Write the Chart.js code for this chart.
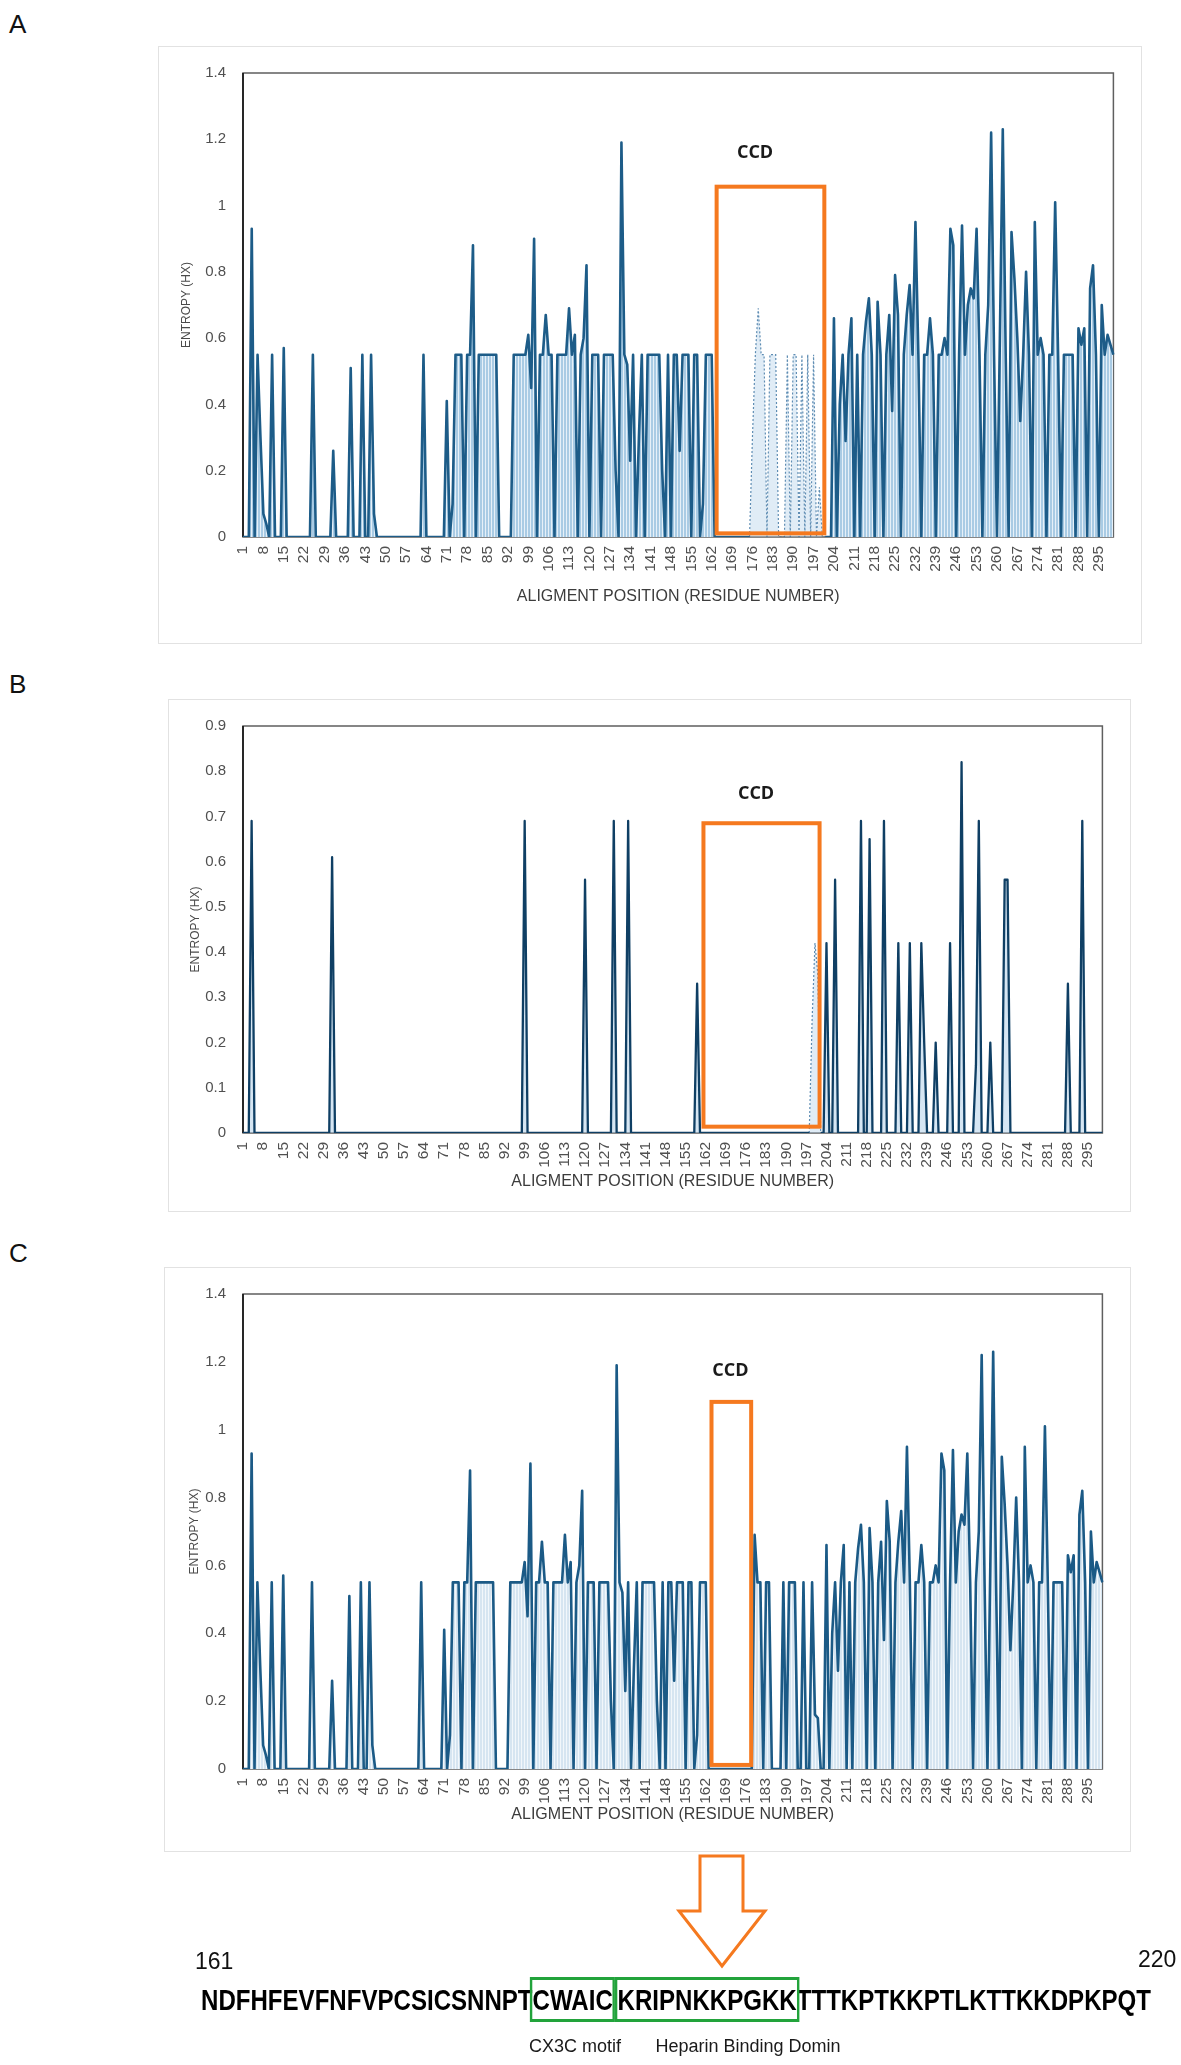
<!DOCTYPE html>
<html>
<head>
<meta charset="utf-8">
<script src="https://cdn.jsdelivr.net/npm/chart.js@4.4.1/dist/chart.umd.min.js"></script>
<style>
  html, body { margin: 0; padding: 0; background: #fff; }
  body { width: 1181px; height: 2065px; position: relative; overflow: hidden; font-family: 'Liberation Sans', Arial, sans-serif; }
  .panel { position: absolute; outline: 1px solid #e2e2e2; background: #fff; }
  .panel canvas { position: absolute; left: 0; top: 0; }
  .letter { position: absolute; font-size: 26px; line-height: 26px; color: #111; }
  #seq { position: absolute; left: 201px; top: 1985px; white-space: nowrap; font-weight: bold; font-size: 30px; line-height: 30px; color: #000; transform-origin: 0 0; }
  .bx { outline: 3px solid #22a33b; padding: 3px 0; }
  .bx2 { margin-left: 6px; }
  .num { position: absolute; font-size: 23px; line-height: 23px; color: #111; }
  .lab { position: absolute; width: 300px; text-align: center; font-size: 18px; line-height: 18px; color: #1a1a1a; }
  #arrow { position: absolute; left: 0; top: 0; pointer-events: none; }
</style>
</head>
<body>
<div class="letter" style="left:9px;top:11px">A</div>
<div class="letter" style="left:9px;top:671px">B</div>
<div class="letter" style="left:9px;top:1240px">C</div>

<div class="panel" style="left:159px;top:47px;width:982px;height:596px"><canvas id="cA" width="982" height="596"></canvas></div>
<div class="panel" style="left:169px;top:700px;width:961px;height:511px"><canvas id="cB" width="961" height="511"></canvas></div>
<div class="panel" style="left:165px;top:1268px;width:965px;height:583px"><canvas id="cC" width="965" height="583"></canvas></div>

<svg id="arrow" width="1181" height="2065" viewBox="0 0 1181 2065">
  <polygon points="700,1856 743,1856 743,1911 765,1911 722,1966 679,1911 700,1911" fill="#fff" stroke="#F5791F" stroke-width="3" stroke-linejoin="miter"/>
</svg>

<div class="num" style="left:195px;top:1950px">161</div>
<div class="num" style="left:1138px;top:1948px">220</div>
<div id="seq">NDFHFEVFNFVPCSICSNNPT<span class="bx">CWAIC</span><span class="bx bx2">KRIPNKKPGKK</span>TTTKPTKKPTLKTTKKDPKPQT</div>
<div class="lab" style="left:425px;top:2037px">CX3C motif</div>
<div class="lab" style="left:598px;top:2037px">Heparin Binding Domin</div>

<script>
// ---------- DATA ----------
const positions = Array.from({ length: 300 }, (_, i) => String(i + 1));
const xTickEvery = 7;

const entropyA = [
  0,0,0,0.93,0,0.55,0.3,0.07,0.04,0,
  0.55,0,0,0,0.57,0,0,0,0,0,
  0,0,0,0,0.55,0,0,0,0,0,
  0,0.26,0,0,0,0,0,0.51,0,0,
  0,0.55,0,0,0.55,0.07,0,0,0,0,
  0,0,0,0,0,0,0,0,0,0,
  0,0,0.55,0,0,0,0,0,0,0,
  0.41,0,0.1,0.55,0.55,0.55,0,0.55,0.55,0.88,
  0,0.55,0.55,0.55,0.55,0.55,0.55,0.55,0,0,
  0,0,0,0.55,0.55,0.55,0.55,0.55,0.61,0.45,
  0.9,0,0.55,0.55,0.67,0.55,0.55,0,0.55,0.55,
  0.55,0.55,0.69,0.55,0.61,0,0.55,0.6,0.82,0,
  0.55,0.55,0.55,0,0.55,0.55,0.55,0.55,0.2,0,
  1.19,0.55,0.52,0.23,0.55,0,0.3,0.55,0,0.55,
  0.55,0.55,0.55,0.55,0.2,0,0.55,0,0.55,0.55,
  0.26,0.55,0.55,0.55,0,0.55,0.55,0,0.1,0.55,
  0.55,0.55,0,0,0,0,0,0,0,0,
  0,0,0,0,0,0.3,0.55,0.69,0.55,0.55,
  0,0.55,0.55,0.55,0,0,0,0.55,0,0.55,
  0.55,0,0.55,0,0.55,0,0.55,0,0.15,0,
  0,0,0,0.66,0,0.4,0.55,0.29,0.55,0.66,
  0,0.55,0,0.55,0.65,0.72,0.55,0,0.71,0.55,
  0,0.55,0.67,0.38,0.79,0.67,0,0.55,0.67,0.76,
  0.55,0.95,0.55,0,0.55,0.55,0.66,0.55,0,0.55,
  0.55,0.6,0.55,0.93,0.88,0,0.55,0.94,0.55,0.7,
  0.75,0.72,0.93,0.55,0,0.55,0.7,1.22,0.55,0,
  0.6,1.23,0.55,0,0.92,0.78,0.6,0.35,0.55,0.8,
  0.55,0,0.95,0.55,0.6,0.55,0,0.55,0.55,1.01,
  0.55,0,0.55,0.55,0.55,0.55,0,0.63,0.58,0.63,
  0,0.75,0.82,0.55,0,0.7,0.55,0.61,0.58,0.55
];

const entropyB = [
  0,0,0,0.69,0,0,0,0,0,0,
  0,0,0,0,0,0,0,0,0,0,
  0,0,0,0,0,0,0,0,0,0,
  0,0.61,0,0,0,0,0,0,0,0,
  0,0,0,0,0,0,0,0,0,0,
  0,0,0,0,0,0,0,0,0,0,
  0,0,0,0,0,0,0,0,0,0,
  0,0,0,0,0,0,0,0,0,0,
  0,0,0,0,0,0,0,0,0,0,
  0,0,0,0,0,0,0,0,0.69,0,
  0,0,0,0,0,0,0,0,0,0,
  0,0,0,0,0,0,0,0,0,0.56,
  0,0,0,0,0,0,0,0,0,0.69,
  0,0,0,0,0.69,0,0,0,0,0,
  0,0,0,0,0,0,0,0,0,0,
  0,0,0,0,0,0,0,0,0.33,0,
  0,0,0,0,0,0,0,0,0,0,
  0,0,0,0,0,0,0,0,0,0,
  0,0,0,0,0,0,0,0,0,0,
  0,0,0,0,0,0,0,0,0.25,0.42,
  0.35,0,0,0.42,0,0,0.56,0,0,0,
  0,0,0,0,0,0.69,0,0,0.65,0,
  0,0,0,0.69,0,0,0,0,0.42,0,
  0,0,0.42,0,0,0,0.42,0.2,0,0,
  0,0.2,0,0,0,0,0.42,0,0,0,
  0.82,0,0,0,0,0.15,0.69,0,0,0,
  0.2,0,0,0,0,0.56,0.56,0,0,0,
  0,0,0,0,0,0,0,0,0,0,
  0,0,0,0,0,0,0,0.33,0,0,
  0,0,0.69,0,0,0,0,0,0,0
];

const entropyC = [
  0,0,0,0.93,0,0.55,0.3,0.07,0.04,0,
  0.55,0,0,0,0.57,0,0,0,0,0,
  0,0,0,0,0.55,0,0,0,0,0,
  0,0.26,0,0,0,0,0,0.51,0,0,
  0,0.55,0,0,0.55,0.07,0,0,0,0,
  0,0,0,0,0,0,0,0,0,0,
  0,0,0.55,0,0,0,0,0,0,0,
  0.41,0,0.1,0.55,0.55,0.55,0,0.55,0.55,0.88,
  0,0.55,0.55,0.55,0.55,0.55,0.55,0.55,0,0,
  0,0,0,0.55,0.55,0.55,0.55,0.55,0.61,0.45,
  0.9,0,0.55,0.55,0.67,0.55,0.55,0,0.55,0.55,
  0.55,0.55,0.69,0.55,0.61,0,0.55,0.6,0.82,0,
  0.55,0.55,0.55,0,0.55,0.55,0.55,0.55,0.2,0,
  1.19,0.55,0.52,0.23,0.55,0,0.3,0.55,0,0.55,
  0.55,0.55,0.55,0.55,0.2,0,0.55,0,0.55,0.55,
  0.26,0.55,0.55,0.55,0,0.55,0.55,0,0.1,0.55,
  0.55,0.55,0,0,0,0,0,0,0,0,
  0,0,0,0,0,0,0,0,0.69,0.55,
  0.55,0,0.55,0.55,0,0,0,0,0.55,0,
  0.55,0.55,0.55,0,0,0.55,0,0,0.55,0.16,
  0.15,0,0,0.66,0,0.4,0.55,0.29,0.55,0.66,
  0,0.55,0,0.55,0.65,0.72,0.55,0,0.71,0.55,
  0,0.55,0.67,0.38,0.79,0.67,0,0.55,0.67,0.76,
  0.55,0.95,0.55,0,0.55,0.55,0.66,0.55,0,0.55,
  0.55,0.6,0.55,0.93,0.88,0,0.55,0.94,0.55,0.7,
  0.75,0.72,0.93,0.55,0,0.55,0.7,1.22,0.55,0,
  0.6,1.23,0.55,0,0.92,0.78,0.6,0.35,0.55,0.8,
  0.55,0,0.95,0.55,0.6,0.55,0,0.55,0.55,1.01,
  0.55,0,0.55,0.55,0.55,0.55,0,0.63,0.58,0.63,
  0,0.75,0.82,0.55,0,0.7,0.55,0.61,0.58,0.55
];

// CCD annotation extents in data units: [fromPos, toPos, lowValue, highValue]
const ccdBoxA = [163.7, 200.7, 0.011, 1.057];
const ccdBoxB = [161.2, 201.6, 0.014, 0.685];
const ccdBoxC = [164.0, 177.8, 0.012, 1.082];
// CCD label anchor: [position, value]
const ccdLabelA = [176.9, 1.159];
const ccdLabelB = [179.5, 0.749];
const ccdLabelC = [170.6, 1.173];
// faint (dotted) stretches: [fromPos, toPos]
const faintA = [175, 201];
const faintB = [198, 202];

// ---------- RENDER ----------
Chart.defaults.font.family = "'Liberation Sans', Arial, sans-serif";

function stripePattern(c1, c2) {
  const t = document.createElement('canvas');
  t.width = 3; t.height = 4;
  const g = t.getContext('2d');
  g.fillStyle = c2; g.fillRect(0, 0, 3, 4);
  g.fillStyle = c1; g.fillRect(0, 0, 2, 4);
  return g.createPattern(t, 'repeat');
}

function build(cfg) {
  const { canvasId, box, plot, xTitleY, yTitleX, yMax, yStep, values, faint, ccdBox, ccdLabel, lineColor, lineWidth, fillBg } = cfg;
  const yTitleFont = 12, xTitleFont = 16;
  const L = yTitleX - box.left - 2 - (yTitleFont * 1.2) / 2;
  const xBottom = xTitleY + 4 + (xTitleFont * 1.2) / 2;

  const main = values.map((v, i) => (faint && (i + 1) > faint[0] && (i + 1) < faint[1]) ? null : v);
  const datasets = [{
    data: main, borderColor: lineColor, borderWidth: lineWidth, backgroundColor: fillBg,
    fill: 'origin', pointRadius: 0, tension: 0, borderJoinStyle: 'round', spanGaps: false
  }];
  if (faint) {
    datasets.push({
      data: values.map((v, i) => ((i + 1) >= faint[0] && (i + 1) <= faint[1]) ? v : null),
      borderColor: 'rgba(45,105,155,0.75)', borderWidth: 1.2, borderDash: [2, 2],
      backgroundColor: 'rgba(165,200,228,0.35)', fill: 'origin', pointRadius: 0, tension: 0
    });
  }

  const framePlugin = {
    id: 'frame',
    beforeDatasetsDraw(chart) {
      const { ctx, chartArea: a } = chart;
      ctx.save();
      ctx.strokeStyle = '#5f5f5f'; ctx.lineWidth = 1.5;
      ctx.strokeRect(a.left, a.top, a.right - a.left, a.bottom - a.top);
      ctx.strokeStyle = '#111'; ctx.lineWidth = 1.6;
      ctx.beginPath(); ctx.moveTo(a.left, a.top); ctx.lineTo(a.left, a.bottom); ctx.stroke();
      ctx.restore();
    }
  };
  const ccdPlugin = {
    id: 'ccd',
    afterDatasetsDraw(chart) {
      const { ctx } = chart;
      const xs = chart.scales.x, ys = chart.scales.y;
      const x0 = xs.getPixelForValue(ccdBox[0] - 1), x1 = xs.getPixelForValue(ccdBox[1] - 1);
      const yLo = ys.getPixelForValue(ccdBox[2]), yHi = ys.getPixelForValue(ccdBox[3]);
      ctx.save();
      ctx.strokeStyle = '#F5791F'; ctx.lineWidth = 4;
      ctx.strokeRect(x0, yHi, x1 - x0, yLo - yHi);
      ctx.fillStyle = '#1a1a1a';
      ctx.font = "bold 18px 'Open Sans', 'Liberation Sans', sans-serif";
      ctx.textAlign = 'center'; ctx.textBaseline = 'middle';
      ctx.fillText('CCD', xs.getPixelForValue(ccdLabel[0] - 1), ys.getPixelForValue(ccdLabel[1]));
      ctx.restore();
    }
  };

  new Chart(document.getElementById(canvasId), {
    type: 'line',
    data: { labels: positions, datasets },
    options: {
      responsive: false,
      animation: false,
      events: [],
      layout: { padding: { left: L, top: plot.top - box.top, right: box.right - plot.right, bottom: box.bottom - xBottom } },
      plugins: { legend: { display: false }, tooltip: { enabled: false } },
      scales: {
        x: {
          type: 'category', offset: false,
          grid: { display: false, drawTicks: false }, border: { display: false },
          ticks: {
            autoSkip: false, maxRotation: 90, minRotation: 90, padding: 9,
            font: { size: 15.5 }, color: '#505050',
            callback: (val, idx) => (idx % xTickEvery === 0 ? positions[idx] : '')
          },
          title: { display: true, text: 'ALIGMENT POSITION (RESIDUE NUMBER)', font: { size: xTitleFont }, color: '#3c3c3c', padding: { top: 0, bottom: 4 } },
          afterFit: (s) => { s.height = xBottom - plot.bottom; }
        },
        y: {
          min: 0, max: yMax,
          grid: { display: false, drawTicks: false }, border: { display: false },
          ticks: { stepSize: yStep, padding: 17, font: { size: 15 }, color: '#505050',
                   callback: (v) => String(Math.round(v * 100) / 100) },
          title: { display: true, text: 'ENTROPY (HX)', font: { size: yTitleFont }, color: '#4a4a4a', padding: { top: 2, bottom: 0 } },
          afterFit: (s) => { s.width = plot.left - box.left - L; }
        }
      }
    },
    plugins: [framePlugin, ccdPlugin]
  });
}

build({
  canvasId: 'cA',
  box: { left: 159, top: 47, right: 1141, bottom: 643 },
  plot: { left: 243, top: 67, right: 1122, bottom: 537 },
  xTitleY: 597, yTitleX: 187, yMax: 1.4, yStep: 0.2,
  values: entropyA, faint: faintA, ccdBox: ccdBoxA, ccdLabel: ccdLabelA,
  lineColor: '#1d5c88', lineWidth: 2.6, fillBg: stripePattern('#a9cbe4', '#e6f0f8')
});
build({
  canvasId: 'cB',
  box: { left: 169, top: 700, right: 1130, bottom: 1211 },
  plot: { left: 243, top: 717, right: 1113, bottom: 1133 },
  xTitleY: 1182, yTitleX: 196, yMax: 0.9, yStep: 0.1,
  values: entropyB, faint: faintB, ccdBox: ccdBoxB, ccdLabel: ccdLabelB,
  lineColor: '#0f3f64', lineWidth: 2.3, fillBg: 'rgba(165,200,228,0.45)'
});
build({
  canvasId: 'cC',
  box: { left: 165, top: 1268, right: 1130, bottom: 1851 },
  plot: { left: 243, top: 1288, right: 1112, bottom: 1769 },
  xTitleY: 1815, yTitleX: 195, yMax: 1.4, yStep: 0.2,
  values: entropyC, faint: null, ccdBox: ccdBoxC, ccdLabel: ccdLabelC,
  lineColor: '#1b5a86', lineWidth: 2.6, fillBg: stripePattern('#d6e5f1', '#f2f7fb')
});

// fit the sequence line to its width in the figure
function fitSeq() {
  const el = document.getElementById('seq');
  el.style.transform = 'none';
  const w = el.getBoundingClientRect().width;
  if (w > 0) el.style.transform = 'scaleX(' + (950 / w) + ')';
}
fitSeq();
if (document.fonts && document.fonts.ready) document.fonts.ready.then(fitSeq);
</script>
</body>
</html>
